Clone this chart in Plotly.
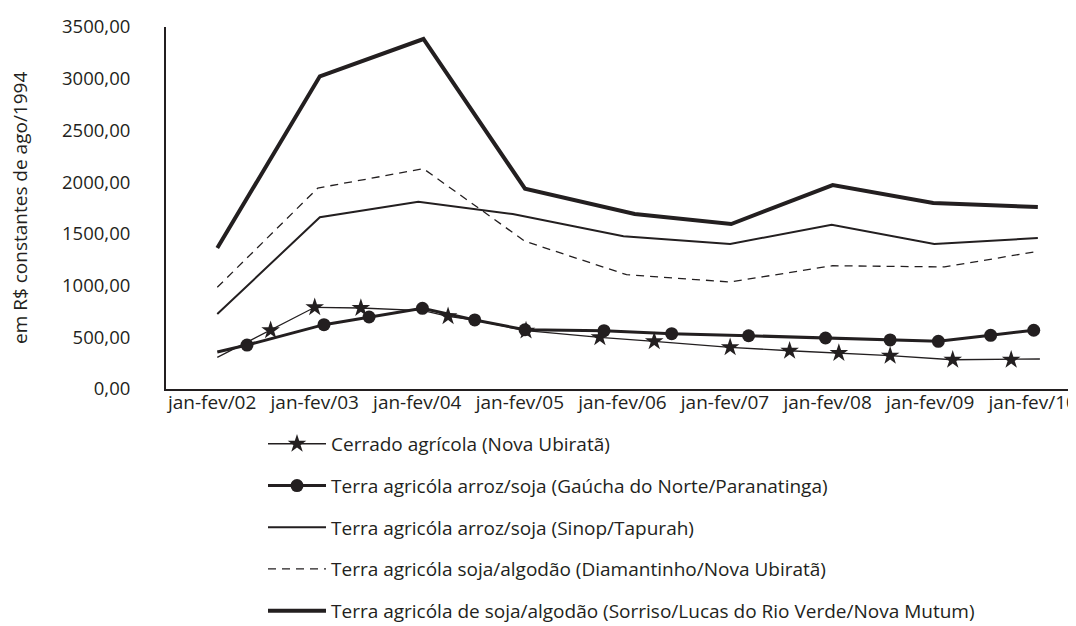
import plotly.graph_objects as go

INK = "#231f20"
FONT = "Open Sans"

# x positions are expressed in fractional years (jan-fev/02 = 2002.0)
years = [2002, 2003, 2004, 2005, 2006, 2007, 2008, 2009, 2010]
year_labels = ["jan-fev/02", "jan-fev/03", "jan-fev/04", "jan-fev/05", "jan-fev/06",
               "jan-fev/07", "jan-fev/08", "jan-fev/09", "jan-fev/10"]

y_ticks = [0, 500, 1000, 1500, 2000, 2500, 3000, 3500]
y_tick_labels = ["0,00", "500,00", "1000,00", "1500,00", "2000,00", "2500,00", "3000,00", "3500,00"]

# Cerrado agrícola (Nova Ubiratã) - stars
cerrado_x = [2002.05, 2002.57, 2003.00, 2003.45, 2004.06, 2004.30, 2004.56, 2005.06, 2005.78,
             2006.31, 2007.05, 2007.63, 2008.11, 2008.61, 2009.22, 2009.79, 2010.07]
cerrado_y = [306, 567, 790, 783, 757, 703, 665, 564, 500,
             461, 403, 370, 348, 322, 283, 283, 290]
cerrado_marked = [0, 1, 1, 1, 0, 1, 0, 1, 1, 1, 1, 1, 1, 1, 1, 1, 0]

# Terra agricóla arroz/soja (Gaúcha do Norte/Paranatinga) - circles
gaucha_x = [2002.05, 2002.34, 2003.09, 2003.53, 2004.05, 2004.56, 2005.05, 2005.82,
            2006.48, 2007.23, 2007.98, 2008.61, 2009.08, 2009.59, 2010.01]
gaucha_y = [358, 425, 622, 696, 780, 668, 573, 564,
            535, 515, 493, 474, 461, 519, 568]
gaucha_marked = [0, 1, 1, 1, 1, 1, 1, 1, 1, 1, 1, 1, 1, 1, 1]

# Terra agricóla arroz/soja (Sinop/Tapurah) - thin solid
sinop_x = [2002.05, 2003.05, 2004.01, 2004.93, 2006.01, 2007.05, 2008.04, 2009.04, 2010.05]
sinop_y = [725, 1660, 1811, 1692, 1476, 1402, 1589, 1402, 1460]

# Terra agricóla soja/algodão (Diamantinho/Nova Ubiratã) - dashed
diam_x = [2002.05, 2003.03, 2004.06, 2005.05, 2006.04, 2007.05, 2008.05, 2009.14, 2010.05]
diam_y = [983, 1943, 2130, 1428, 1105, 1035, 1192, 1180, 1331]

# Terra agricóla de soja/algodão (Sorriso/Lucas do Rio Verde/Nova Mutum) - thick
sorriso_x = [2002.05, 2003.05, 2004.06, 2005.05, 2006.12, 2007.06, 2008.05, 2009.03, 2010.05]
sorriso_y = [1363, 3023, 3384, 1937, 1692, 1595, 1972, 1798, 1760]

names = [
    "Cerrado agrícola (Nova Ubiratã)",
    "Terra agricóla arroz/soja (Gaúcha do Norte/Paranatinga)",
    "Terra agricóla arroz/soja (Sinop/Tapurah)",
    "Terra agricóla soja/algodão (Diamantinho/Nova Ubiratã)",
    "Terra agricóla de soja/algodão (Sorriso/Lucas do Rio Verde/Nova Mutum)",
]

STAR = 14
DOT = 13

fig = go.Figure()

# data traces (legend handled by legend-only traces below)
fig.add_trace(go.Scatter(x=sorriso_x, y=sorriso_y, mode="lines",
                         line=dict(color=INK, width=4), showlegend=False))
fig.add_trace(go.Scatter(x=sinop_x, y=sinop_y, mode="lines",
                         line=dict(color=INK, width=2), showlegend=False))
fig.add_trace(go.Scatter(x=diam_x, y=diam_y, mode="lines",
                         line=dict(color=INK, width=1.3, dash="8px,6px"), showlegend=False))
fig.add_trace(go.Scatter(x=gaucha_x, y=gaucha_y, mode="lines+markers",
                         line=dict(color=INK, width=3),
                         marker=dict(symbol="circle", color=INK, opacity=1,
                                     line=dict(width=0),
                                     size=[DOT * m for m in gaucha_marked]),
                         showlegend=False))
fig.add_trace(go.Scatter(x=cerrado_x, y=cerrado_y, mode="lines+markers",
                         line=dict(color=INK, width=1.3),
                         marker=dict(symbol="star", color=INK, opacity=1,
                                     line=dict(width=0),
                                     size=[STAR * m for m in cerrado_marked]),
                         showlegend=False))

# legend entries
legend_styles = [
    dict(mode="lines+markers", line=dict(color=INK, width=1.5),
         marker=dict(symbol="star", color=INK, size=STAR, line=dict(width=0))),
    dict(mode="lines+markers", line=dict(color=INK, width=3),
         marker=dict(symbol="circle", color=INK, size=DOT, line=dict(width=0))),
    dict(mode="lines", line=dict(color=INK, width=2)),
    dict(mode="lines", line=dict(color=INK, width=1.3, dash="8px,6px")),
    dict(mode="lines", line=dict(color=INK, width=4)),
]
for i, (nm, st) in enumerate(zip(names, legend_styles)):
    fig.add_trace(go.Scatter(x=[None], y=[None], name=nm, legendgroup=f"g{i}",
                             showlegend=True, **st))

fig.update_layout(
    width=1076, height=626,
    margin=dict(l=158, r=0, t=19, b=245, autoexpand=False),
    plot_bgcolor="white", paper_bgcolor="white",
    font=dict(family=FONT, size=19, color=INK),
    xaxis=dict(range=[2001.55, 2010.5], tickmode="array", tickvals=years, ticktext=year_labels,
               tickangle=0, ticklabelstandoff=-5,
               showline=True, linecolor=INK, linewidth=2, showgrid=False, zeroline=False,
               ticks="", automargin=False, tickfont=dict(size=19)),
    yaxis=dict(range=[0, 3500], tickmode="array", tickvals=y_ticks, ticktext=y_tick_labels,
               showline=True, linecolor=INK, linewidth=2, showgrid=False, zeroline=False,
               ticks="", automargin=False, ticklabelstandoff=30, tickfont=dict(size=18.5)),
    legend=dict(xref="container", yref="container", x=255 / 1076, y=1 - 417 / 626,
                xanchor="left", yanchor="top", itemwidth=58, tracegroupgap=14,
                font=dict(size=19), bgcolor="rgba(0,0,0,0)", traceorder="grouped"),
    annotations=[dict(text="em R$ constantes de ago/1994", xref="paper", yref="paper",
                      x=(12 - 158) / 918, y=0.5, textangle=-90, showarrow=False,
                      font=dict(size=19, color=INK), xanchor="center", yanchor="middle")],
)

fig.write_html("out.html")
